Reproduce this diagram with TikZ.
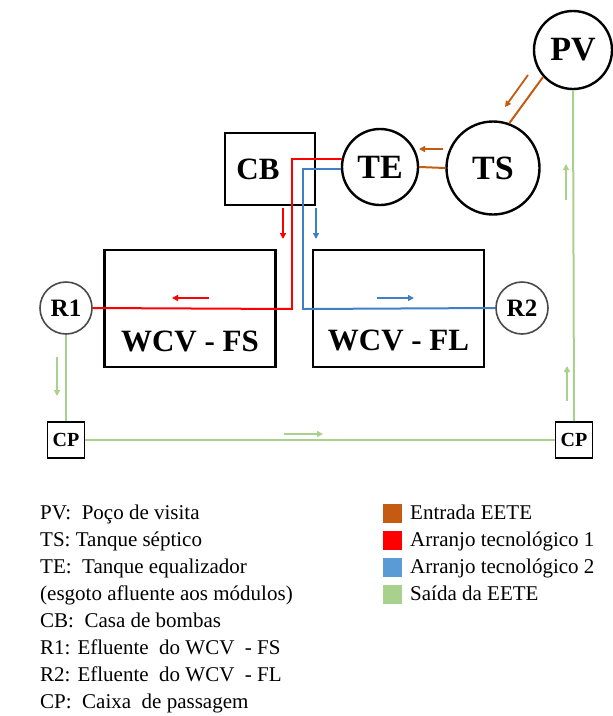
\documentclass[tikz,border=0pt]{standalone}
\usepackage{fontspec}
\setmainfont{Liberation Serif}
\usetikzlibrary{arrows.meta}
\definecolor{inflow}{HTML}{C55A11}
\definecolor{armone}{HTML}{FF0000}
\definecolor{armtwo}{HTML}{3F7FC4}
\definecolor{armtwoleg}{HTML}{5B9BD5}
\definecolor{outflow}{HTML}{A9D18E}
\definecolor{rimgray}{HTML}{4A4A4A}
\begin{document}
\begin{tikzpicture}[x=1pt,y=-1pt,
  tank/.style={draw, circle, line width=2.4pt, inner sep=0pt, fill=white,
    font=\bfseries\fontsize{34}{34}\selectfont},
  minitank/.style={draw=rimgray, circle, line width=1.6pt, inner sep=0pt, fill=white,
    font=\bfseries\fontsize{25}{25}\selectfont, minimum size=52pt},
  unit/.style={draw, rectangle, line width=2.6pt, inner sep=0pt},
  unitlabel/.style={font=\bfseries\fontsize{31}{31}\selectfont},
  pbox/.style={draw, rectangle, line width=1.6pt, inner sep=0pt, fill=white,
    minimum width=37pt, minimum height=36pt,
    font=\bfseries\fontsize{20}{20}\selectfont},
  pipe/.style={line width=2pt},
  flow/.style={line width=1.8pt, -{Triangle[length=6pt,width=6pt]}},
  legtext/.style={anchor=base west, inner sep=0pt,
    font=\fontsize{21}{21}\selectfont},
  swatch/.style={minimum size=19pt, inner sep=0pt}
]
\useasboundingbox (0,0) rectangle (613,716);

% tanks and treatment units
\node[tank, minimum size=78pt] (PV) at (573,50) {PV};
\node[tank, minimum size=93pt] (TS) at (493,168) {TS};
\node[tank, minimum size=76pt] (TE) at (380,167) {TE};
\node[unit, minimum width=90pt, minimum height=72pt,
  label={[xshift=-12pt, unitlabel]center:CB}] (CB) at (270,169) {};
\node[unit, minimum width=171pt, minimum height=117pt,
  label={[yshift=-33pt, unitlabel]center:WCV - FS}] (FS) at (190,308.5) {};
\node[unit, minimum width=171pt, minimum height=117pt,
  label={[yshift=-32pt, unitlabel]center:WCV - FL}] (FL) at (398.5,308.5) {};

% inflow
\draw[pipe, inflow] (PV.222) -- (TS.70);
\draw[pipe, inflow] (TS.west) -- (TE.east);
\draw[flow, inflow] (528,75) -- (505,107);
\draw[flow, inflow] (443,149) -- (419,149);

% arrangement 1 (red) and arrangement 2 (blue)
\draw[pipe, armone] (TE.168) -- ++(-50,0) |- (292,309) coordinate (rcorner);
\draw[pipe, armtwo] (TE.183) -- ++(-38,0) |- (304,309) coordinate (bcorner);

\node[minitank] (R1) at (66,308) {R1};
\node[minitank] (R2) at (522,308) {R2};
\draw[pipe, armone] (rcorner) -- (R1.east);
\draw[pipe, armtwo] (bcorner) -- (R2.west);

\draw[flow, armone] (283,208) -- (283,239);
\draw[flow, armone] (209,298) -- (172,298);
\draw[flow, armtwo] (316,208) -- (316,239);
\draw[flow, armtwo] (377,298) -- (414,298);

% outflow
\node[pbox] (CPL) at (66,440) {CP};
\node[pbox] (CPR) at (574,440) {CP};
\draw[pipe, outflow] (R1.south) -- (CPL.north);
\draw[pipe, outflow] (CPL.east) -- (CPR.west);
\draw[pipe, outflow] (CPR.north) -- (PV.south);
\draw[flow, outflow] (57,357) -- (57,396);
\draw[flow, outflow] (284,434) -- (323,434);
\draw[flow, outflow] (567,401) -- (567,366);
\draw[flow, outflow] (566,200) -- (566,164);

% key to abbreviations
\node[legtext] (k1) at (40,519) {PV:\ \ Poço de visita};
\node[legtext] (k2) at (40,546) {TS: Tanque séptico};
\node[legtext] (k3) at (40,573) {TE:\ \ Tanque equalizador};
\node[legtext] (k4) at (40,600) {(esgoto afluente aos módulos)};
\node[legtext] (k5) at (40,627) {CB:\ \ Casa de bombas};
\node[legtext] (k6) at (40,654) {R1: Efluente\ \ do WCV\ \ - FS};
\node[legtext] (k7) at (40,681) {R2: Efluente\ \ do WCV\ \ - FL};
\node[legtext] (k8) at (40,708) {CP:\ \ Caixa\ \ de passagem};

% colour key
\node[swatch, fill=inflow] (s1) at (392,513) {};
\node[swatch, fill=armone] (s2) at (392,540) {};
\node[swatch, fill=armtwoleg] (s3) at (392,567) {};
\node[swatch, fill=outflow] (s4) at (392,594) {};
\node[legtext] at (410,519) {Entrada EETE};
\node[legtext] at (410,546) {Arranjo tecnológico 1};
\node[legtext] at (410,573) {Arranjo tecnológico 2};
\node[legtext] at (410,600) {Saída da EETE};
\end{tikzpicture}
\end{document}
